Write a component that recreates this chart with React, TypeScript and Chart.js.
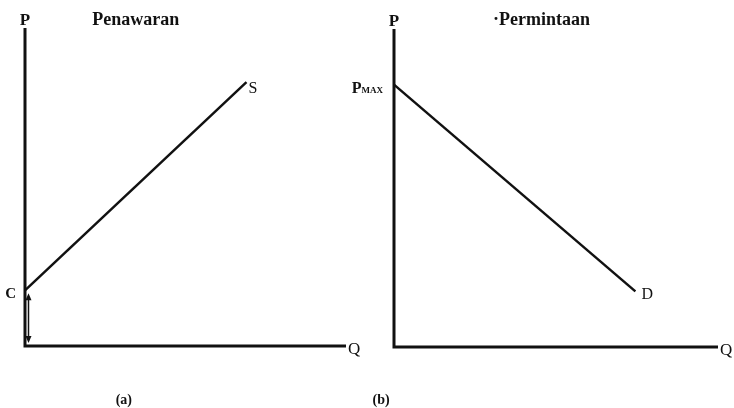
import React, { useEffect, useRef } from "react";
import { Chart, registerables } from "chart.js";

Chart.register(...registerables);

// ---- data ----
const axisMax = 10;
const supplyQ = [0, 6.9];
const supplyP = [1.75, 8.3];
const demandQ = [0, 7.45];
const demandP = [8.25, 1.75];
const supplyTitle = "Penawaran";
const demandTitle = "·Permintaan";
const supplyCaption = "(a)";
const demandCaption = "(b)";
const supplyEndLabel = "S";
const demandEndLabel = "D";
const supplyStartLabel = "C";
const demandStartLabel = "P";
const demandStartSub = "MAX";
const axisPLabel = "P";
const axisQLabel = "Q";

const INK = "#111";
const SERIF = '"Liberation Serif", "DejaVu Serif", serif';

type PanelCfg = {
  qs: number[];
  ps: number[];
  title: string;
  titleQ: number;
  caption: string;
  captionQ: number;
  endLabel: string;
  startLabel: string;
  startSub?: string;
  arrow?: boolean;
  padding: { left: number; top: number; right: number; bottom: number };
  left: number;
  width: number;
};

const panels: PanelCfg[] = [
  {
    qs: supplyQ,
    ps: supplyP,
    title: supplyTitle,
    titleQ: 3.45,
    caption: supplyCaption,
    captionQ: 3.08,
    endLabel: supplyEndLabel,
    startLabel: supplyStartLabel,
    arrow: true,
    padding: { left: 25, top: 28, right: 21, bottom: 62 },
    left: 0,
    width: 367,
  },
  {
    qs: demandQ,
    ps: demandP,
    title: demandTitle,
    titleQ: 4.55,
    caption: demandCaption,
    captionQ: -0.4,
    endLabel: demandEndLabel,
    startLabel: demandStartLabel,
    startSub: demandStartSub,
    padding: { left: 64, top: 29, right: 16, bottom: 61 },
    left: 330,
    width: 404,
  },
];

function Panel({ cfg }: { cfg: PanelCfg }) {
  const ref = useRef<HTMLCanvasElement | null>(null);
  useEffect(() => {
    if (!ref.current) return;
    const labelPlugin = {
      id: "labels",
      afterDatasetsDraw(chart: any) {
        const ctx = chart.ctx;
        const xs = chart.scales.x;
        const ys = chart.scales.y;
        const x0 = xs.getPixelForValue(0);
        const y0 = ys.getPixelForValue(0);
        const xEnd = xs.getPixelForValue(axisMax);
        const yTop = ys.getPixelForValue(axisMax);
        const sy = ys.getPixelForValue(cfg.ps[0]);
        const ex = xs.getPixelForValue(cfg.qs[cfg.qs.length - 1]);
        const ey = ys.getPixelForValue(cfg.ps[cfg.ps.length - 1]);
        ctx.save();
        ctx.fillStyle = INK;
        ctx.strokeStyle = INK;
        ctx.textBaseline = "alphabetic";
        // axis P
        ctx.font = `bold 17px ${SERIF}`;
        ctx.textAlign = "center";
        ctx.fillText(axisPLabel, x0, yTop - 3);
        // title
        ctx.font = `bold 18px ${SERIF}`;
        ctx.fillText(cfg.title, xs.getPixelForValue(cfg.titleQ), 25);
        // caption
        ctx.font = `bold 14px ${SERIF}`;
        ctx.fillText(cfg.caption, xs.getPixelForValue(cfg.captionQ), 404);
        // Q
        ctx.font = `17px ${SERIF}`;
        ctx.textAlign = "left";
        ctx.fillText(axisQLabel, xEnd + 2, y0 + 8);
        // end label
        ctx.font = `16px ${SERIF}`;
        ctx.fillText(cfg.endLabel, ex + (cfg.startSub ? 6 : 2), ey + (cfg.startSub ? 8 : 11));
        // start label
        if (cfg.startSub) {
          ctx.font = `bold 9px ${SERIF}`;
          ctx.textAlign = "right";
          const subW = ctx.measureText(cfg.startSub).width;
          ctx.fillText(cfg.startSub, x0 - 11, sy + 8);
          ctx.font = `bold 16px ${SERIF}`;
          ctx.fillText(cfg.startLabel, x0 - 11 - subW, sy + 8);
        } else {
          ctx.font = `bold 15px ${SERIF}`;
          ctx.textAlign = "right";
          ctx.fillText(cfg.startLabel, x0 - 9, sy + 8);
        }
        // double arrow
        if (cfg.arrow) {
          const ax = x0 + 3.5;
          const a1 = sy + 3;
          const a2 = y0 - 3;
          ctx.lineWidth = 1.5;
          ctx.beginPath();
          ctx.moveTo(ax, a1 + 4);
          ctx.lineTo(ax, a2 - 4);
          ctx.stroke();
          ctx.beginPath();
          ctx.moveTo(ax, a1);
          ctx.lineTo(ax - 3, a1 + 7);
          ctx.lineTo(ax + 3, a1 + 7);
          ctx.closePath();
          ctx.fill();
          ctx.beginPath();
          ctx.moveTo(ax, a2);
          ctx.lineTo(ax - 3, a2 - 7);
          ctx.lineTo(ax + 3, a2 - 7);
          ctx.closePath();
          ctx.fill();
        }
        ctx.restore();
      },
    };
    const chart = new Chart(ref.current, {
      type: "line",
      data: {
        datasets: [
          {
            data: [
              { x: 0, y: axisMax },
              { x: 0, y: 0 },
              { x: axisMax, y: 0 },
            ],
            borderColor: INK,
            borderWidth: 3,
            pointRadius: 0,
            borderCapStyle: "butt",
            borderJoinStyle: "miter",
            clip: 20,
          } as any,
          {
            data: cfg.qs.map((q, i) => ({ x: q, y: cfg.ps[i] })),
            borderColor: INK,
            borderWidth: 2.5,
            pointRadius: 0,
            clip: 20,
          } as any,
        ],
      },
      options: {
        responsive: false,
        animation: false,
        devicePixelRatio: 1,
        layout: { padding: cfg.padding },
        plugins: { legend: { display: false }, tooltip: { enabled: false } },
        scales: {
          x: { type: "linear", min: 0, max: axisMax, display: false },
          y: { type: "linear", min: 0, max: axisMax, display: false },
        },
      },
      plugins: [labelPlugin],
    });
    return () => chart.destroy();
  }, [cfg]);
  return (
    <canvas
      ref={ref}
      width={cfg.width}
      height={408}
      style={{ position: "absolute", left: cfg.left, top: 0, width: cfg.width, height: 408 }}
    />
  );
}

export default function App() {
  return (
    <div style={{ position: "fixed", left: 0, top: 0, width: 734, height: 408, background: "#fff" }}>
      {panels.map((p, i) => (
        <Panel key={i} cfg={p} />
      ))}
    </div>
  );
}
